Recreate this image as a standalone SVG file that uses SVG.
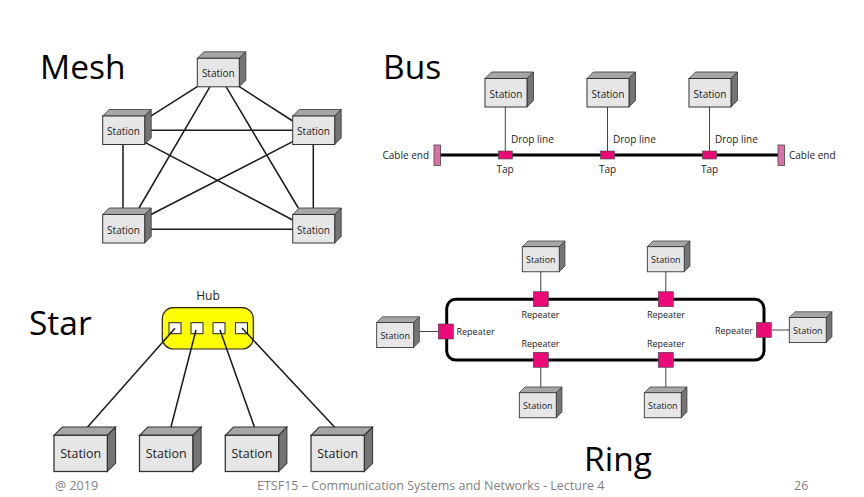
<svg xmlns="http://www.w3.org/2000/svg" width="864" height="497" viewBox="0 0 864 497">
<style>
text{font-family:"Open Sans","Noto Sans","Liberation Sans",sans-serif;fill:#222}
.title{font-size:33.5px;fill:#000}
.foot{font-size:12.5px;fill:#7f7f7f}
.s10{font-size:10px}.s9{font-size:9px}.s13{font-size:12.5px}
.lbl{font-size:10px}.rep{font-size:9px}
.m{text-anchor:middle}.e{text-anchor:end}
.ln{stroke:#1a1a1a;fill:none;stroke-width:1.5}
.thin{stroke:#444;fill:none;stroke-width:1}
.rp{fill:#ec0a78;stroke:#444;stroke-width:.6}
.port{fill:#fff;stroke:#222;stroke-width:1}
</style>
<defs>
<g id="box">
<polygon points="0,0 6.5,-6.5 48.5,-6.5 42,0" fill="#a6a6a6" stroke="#333" stroke-width=".8"/>
<polygon points="42,0 48.5,-6.5 48.5,22 42,28.5" fill="#757575" stroke="#333" stroke-width=".8"/>
<rect width="42" height="28.5" fill="#e6e6e6" stroke="#333" stroke-width="1"/>
</g>
</defs>
<rect width="864" height="497" fill="#fff"/>
<g id="hub">
<rect x="162.3" y="307.7" width="91" height="41.3" rx="11" fill="#ff0" stroke="#222" stroke-width="1.2"/>
<rect class="port" x="169" y="322.7" width="12" height="11"/><rect class="port" x="191" y="322.7" width="12" height="11"/><rect class="port" x="213" y="322.7" width="12" height="11"/><rect class="port" x="235.5" y="322.7" width="12" height="11"/>
<text class="m" x="208" y="300" style="font-size:12px">Hub</text>
</g>
<g id="connectors">
<path class="ln" d="M210 86.7L139 208M226 86.7L298.3 208M197.3 86.7L150 116.7M239.3 86.7L292.7 121M145 130.3H292.7M145 142.3L292.7 220M150 215L292.7 141.7M123 145V214M313.3 145V214M150 229.3H292.7"/>
<path class="thin" d="M505.3 107V151M607.5 107V151M709.5 107V151"/>
<path d="M440 155H778" stroke="#000" stroke-width="3" fill="none"/>
<path class="ln" d="M175 328.3L84.3 430.7M196 330L170 430.7M220 330L255.7 430.7M242 328L338 430.7"/>
<rect x="446.7" y="299.3" width="317.3" height="60.7" rx="9" fill="none" stroke="#000" stroke-width="3"/>
<path class="thin" d="M540.8 271V292M665.8 271V292M414.3 331.5H438M771.7 330H789.3M540.8 367V392.7M665.8 367V392.7"/>
</g>
<text class="title" x="40" y="79">Mesh</text>
<text class="title" x="383" y="79">Bus</text>
<text class="title" x="29" y="335">Star</text>
<text class="title" x="584" y="471">Ring</text>
<g id="mesh-top"><use href="#box" transform="translate(197.3,58.3)"/><text class="s10 m" x="218.3" y="76.5">Station</text></g>
<g id="mesh-left"><use href="#box" transform="translate(102.7,116)"/><text class="s10 m" x="123.5" y="135">Station</text></g>
<g id="mesh-right"><use href="#box" transform="translate(292.7,116)"/><text class="s10 m" x="313.5" y="135">Station</text></g>
<g id="mesh-ll"><use href="#box" transform="translate(102.7,214.5)"/><text class="s10 m" x="123.5" y="233.5">Station</text></g>
<g id="mesh-lr"><use href="#box" transform="translate(292.7,214.5)"/><text class="s10 m" x="313.5" y="233.5">Station</text></g>
<g id="bus-s1"><use href="#box" transform="translate(485,78.5)"/><text class="s10 m" x="506" y="97.5">Station</text></g>
<g id="bus-s2"><use href="#box" transform="translate(587,78.5)"/><text class="s10 m" x="608" y="97.5">Station</text></g>
<g id="bus-s3"><use href="#box" transform="translate(689,78.5)"/><text class="s10 m" x="710" y="97.5">Station</text></g>
<g id="bus-end-l"><rect x="434" y="145" width="6.5" height="20.5" fill="#dc6ea8" stroke="#444" stroke-width=".8"/><text class="lbl e" x="429" y="159">Cable end</text></g>
<g id="bus-end-r"><rect x="778" y="145" width="6.5" height="20.5" fill="#dc6ea8" stroke="#444" stroke-width=".8"/><text class="lbl" x="789" y="159">Cable end</text></g>
<g id="tap1"><rect class="rp" x="498.5" y="151" width="14" height="8"/><text class="lbl" x="511" y="143">Drop line</text><text class="lbl m" x="505" y="172.5">Tap</text></g>
<g id="tap2"><rect class="rp" x="600.5" y="151" width="14" height="8"/><text class="lbl" x="613" y="143">Drop line</text><text class="lbl m" x="607.5" y="172.5">Tap</text></g>
<g id="tap3"><rect class="rp" x="702.5" y="151" width="14" height="8"/><text class="lbl" x="715" y="143">Drop line</text><text class="lbl m" x="709.5" y="172.5">Tap</text></g>
<g id="star-s1"><use href="#box" transform="translate(54,435.3) scale(1.27)"/><text class="s13 m" x="80.7" y="458">Station</text></g>
<g id="star-s2"><use href="#box" transform="translate(139.5,435.3) scale(1.27)"/><text class="s13 m" x="166.2" y="458">Station</text></g>
<g id="star-s3"><use href="#box" transform="translate(225.3,435.3) scale(1.27)"/><text class="s13 m" x="252" y="458">Station</text></g>
<g id="star-s4"><use href="#box" transform="translate(311,435.3) scale(1.27)"/><text class="s13 m" x="337.7" y="458">Station</text></g>
<g id="ring-s1"><use href="#box" transform="translate(522.3,246.7) scale(.88)"/><text class="s9 m" x="540.8" y="263">Station</text></g>
<g id="ring-s2"><use href="#box" transform="translate(647.3,246.7) scale(.88)"/><text class="s9 m" x="665.8" y="263">Station</text></g>
<g id="ring-s3"><use href="#box" transform="translate(376.7,322.5) scale(.88)"/><text class="s9 m" x="395.2" y="339">Station</text></g>
<g id="ring-s4"><use href="#box" transform="translate(789.3,317.5) scale(.88)"/><text class="s9 m" x="807.8" y="334">Station</text></g>
<g id="ring-s5"><use href="#box" transform="translate(519.3,392.7) scale(.88)"/><text class="s9 m" x="537.8" y="409">Station</text></g>
<g id="ring-s6"><use href="#box" transform="translate(644.3,392.7) scale(.88)"/><text class="s9 m" x="662.8" y="409">Station</text></g>
<g id="rep1"><rect class="rp" x="533.3" y="291.7" width="15" height="15"/><text class="rep m" x="540.5" y="318">Repeater</text></g>
<g id="rep2"><rect class="rp" x="658.3" y="291.7" width="15" height="15"/><text class="rep m" x="666" y="318">Repeater</text></g>
<g id="rep3"><rect class="rp" x="438.3" y="324" width="15" height="15"/><text class="rep" x="456.5" y="335">Repeater</text></g>
<g id="rep4"><rect class="rp" x="756.3" y="322.5" width="15" height="15"/><text class="rep e" x="753" y="333.5">Repeater</text></g>
<g id="rep5"><rect class="rp" x="533.3" y="352.3" width="15" height="15"/><text class="rep m" x="540.5" y="346.5">Repeater</text></g>
<g id="rep6"><rect class="rp" x="658.3" y="352.3" width="15" height="15"/><text class="rep m" x="666" y="346.5">Repeater</text></g>
<text class="foot" x="55" y="490">@ 2019</text>
<text class="foot" x="257" y="490">ETSF15 – Communication Systems and Networks - Lecture 4</text>
<text class="foot" x="794" y="490">26</text>
</svg>
